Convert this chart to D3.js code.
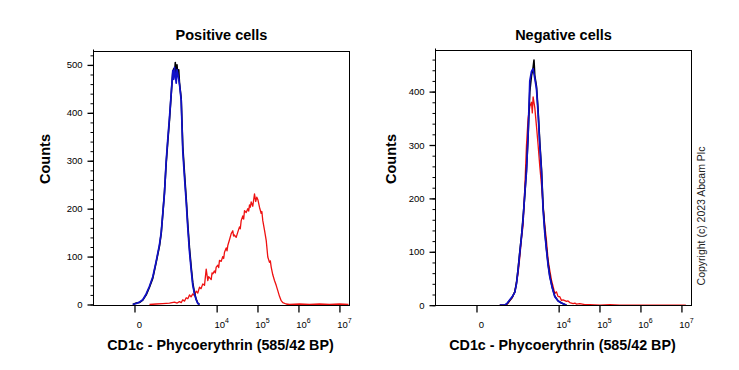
<!DOCTYPE html>
<html>
<head>
<meta charset="utf-8">
<script src="https://cdn.jsdelivr.net/npm/d3@7"></script>
<style>
  html, body { margin: 0; padding: 0; background: #fff; }
  svg text { font-family: Arial, "Liberation Sans", sans-serif; fill: #000; }
</style>
</head>
<body>
<div id="chart"></div>
<script>
// x values are fluorescence (biexponential axis), y values are counts
const posRed = [[132,0],[238,1],[390,2],[614,3],[846,5],[1000,3],[1153,6],[1280,4],[1408,10],[1560,7],[1725,14],[1900,12],[2097,20],[2300,16],[2545,22],[2800,19],[3101,28],[3400,24],[3755,36],[4100,33],[4540,43],[5005,40],[5517,74],[6044,50],[6350,58],[6657,56],[7335,52],[7700,66],[8037,64],[8850,70],[9300,66],[9750,78],[10680,82],[11200,77],[11750,92],[12940,90],[14170,100],[14900,96],[15600,109],[17180,118],[18000,112],[18800,123],[20690,135],[22780,148],[24920,154],[26000,143],[27430,145],[30180,140],[33030,151],[36360,162],[38000,158],[40000,175],[43780,185],[46000,178],[48190,196],[53000,192],[58000,200],[61000,195],[63860,208],[67000,203],[70260,214],[76880,205],[84600,231],[90500,215],[96300,224],[103000,218],[112000,203],[123300,190],[128000,194],[134900,175],[148400,155],[163300,134],[178600,99],[196500,88],[206000,91],[216200,78],[236600,62],[260200,50],[286300,40],[313300,29],[344600,17],[379200,8],[414700,4],[502100,1],[605000,0],[1061000,1],[1859000,0],[3262000,1],[5724000,0],[10040000,1],[16650000,0]];
const posBlack = [[-10,0],[10,3],[32,4],[59,9],[93,20],[132,36],[180,55],[238,88],[307,122],[348,148],[390,188],[439,235],[494,295],[549,340],[614,385],[686,438],[760,485],[805,492],[846,480],[890,505],[941,470],[989,500],[1039,478],[1100,490],[1153,462],[1279,430],[1408,330],[1559,275],[1725,222],[1897,168],[2097,118],[2317,78],[2545,45],[2810,24],[3101,11],[3402,3],[3755,0]];
const posBlue = [[-10,0],[10,2],[32,5],[59,10],[93,22],[132,38],[180,58],[238,90],[307,125],[348,150],[390,190],[439,232],[494,300],[549,345],[614,390],[686,440],[760,488],[805,470],[846,495],[941,462],[989,490],[1039,482],[1153,460],[1279,426],[1408,320],[1559,265],[1725,215],[1897,160],[2097,110],[2317,72],[2545,40],[2810,22],[3101,10],[3402,2],[3755,0]];

const negRed = [[270,0],[390,0],[464,2],[549,8],[647,14],[760,25],[846,42],[935,60],[1039,90],[1153,125],[1271,150],[1408,220],[1559,300],[1716,350],[1897,372],[2097,380],[2199,360],[2305,390],[2545,370],[2810,335],[3085,300],[3402,260],[3755,225],[4118,185],[4540,150],[5005,120],[5480,85],[6044,65],[6657,47],[7290,35],[8037,22],[8850,25],[9690,16],[10680,16],[11700,9],[12870,10],[15600,7],[17000,8],[18800,5],[22650,3],[25000,4],[27430,2],[33000,3],[43780,1],[58000,1],[101800,0],[178600,1],[313300,0],[964000,0],[12800000,0]];
const negBlack = [[270,0],[390,0],[464,3],[549,9],[647,15],[760,25],[846,42],[935,68],[1039,100],[1153,130],[1271,165],[1408,205],[1559,255],[1716,315],[1897,400],[2097,430],[2305,445],[2428,459],[2545,430],[2810,410],[3085,365],[3402,305],[3755,255],[4118,185],[4540,140],[5005,105],[5480,78],[6044,55],[6970,33],[8037,17],[9690,8],[11750,4],[15600,0]];
const negBlue = [[270,0],[390,0],[464,4],[549,10],[647,16],[760,24],[846,40],[935,66],[1039,98],[1153,128],[1271,160],[1408,210],[1559,250],[1716,320],[1897,420],[2097,438],[2305,443],[2545,425],[2810,405],[3085,359],[3402,300],[3755,250],[4118,178],[4540,135],[5005,103],[5480,75],[6044,53],[6970,32],[8037,16],[9690,8],[11750,4],[15600,0]];

const xLabelTicks = [0, 1e4, 1e5, 1e6, 1e7];
const xLabelExp = [null, 4, 5, 6, 7];
const posYTicks = [0, 100, 200, 300, 400, 500];
const negYTicks = [0, 100, 200, 300, 400];
const titles = ['Positive cells', 'Negative cells'];
const xTitle = 'CD1c - Phycoerythrin (585/42 BP)';
const yTitle = 'Counts';
const copyright = 'Copyright (c) 2023 Abcam Plc';

const W = 739, H = 370;
const plotW = 256;

const svg = d3.select('#chart').append('svg')
    .attr('width', W)
    .attr('height', H)
    .style('display', 'block');
svg.append('rect').attr('width', W).attr('height', H).attr('fill', '#fff');

// minor ticks for the biexponential axis
const xMinor = [];
for (let m = 10; m < 100; m += 10) xMinor.push(-m);
for (let m = 100; m < 1000; m += 100) xMinor.push(-m, m);
for (let e = 3; e <= 7; e++) {
    for (let k = 1; k < 10; k++) {
        const v = k * Math.pow(10, e);
        if (v < 1.76e7 && !xLabelTicks.includes(v)) xMinor.push(v);
    }
}

const panels = [
    { title: titles[0], left: 93.5, top: 51.5, h: 254, yDomain: [-2.1, 528], yTicks: posYTicks, yMinorMax: 520, countsX: 45,
      series: [[posRed, '#ee1111', 1.3], [posBlack, '#000', 1.6], [posBlue, '#1010c8', 1.7]] },
    { title: titles[1], left: 435.5, top: 50.5, h: 255, yDomain: [-0.6, 477], yTicks: negYTicks, yMinorMax: 460, countsX: 391,
      series: [[negRed, '#ee1111', 1.3], [negBlack, '#000', 1.6], [negBlue, '#1010c8', 1.7]] }
];

panels.forEach((p, pi) => {
    const g = svg.append('g').attr('transform', `translate(${p.left},${p.top})`);

    const x = d3.scaleSymlog().constant(100).domain([-900, 1.76e7]).range([0, plotW]);
    const y = d3.scaleLinear().domain(p.yDomain).range([p.h, 0]);

    const clipId = 'clip' + pi;
    g.append('clipPath').attr('id', clipId)
        .append('rect').attr('x', 0).attr('y', -2).attr('width', plotW).attr('height', p.h + 2);

    const line = d3.line().x(d => x(d[0])).y(d => y(d[1]));

    p.series.forEach(([data, color, sw]) => {
        g.append('path')
            .datum(data)
            .attr('clip-path', `url(#${clipId})`)
            .attr('d', line)
            .attr('fill', 'none')
            .attr('stroke', color)
            .attr('stroke-width', sw)
            .attr('stroke-linejoin', 'round');
    });

    // frame
    g.append('rect')
        .attr('width', plotW).attr('height', p.h)
        .attr('fill', 'none').attr('stroke', '#000').attr('stroke-width', 1);

    // y axis
    const yMinorAxis = d3.axisLeft(y).tickValues(d3.range(0, p.yMinorMax + 1, 20)).tickSize(3).tickFormat('');
    g.append('g').call(yMinorAxis).call(a => a.select('.domain').remove());
    const yAxis = d3.axisLeft(y).tickValues(p.yTicks).tickSize(6).tickPadding(5).tickFormat(d3.format('d'));
    g.append('g').call(yAxis)
        .call(a => a.select('.domain').attr('d', `M0,${p.h}V-2`))
        .call(a => a.selectAll('line').attr('stroke-width', 1.3))
        .call(a => a.selectAll('text').style('font-size', '9.5px'));

    // x axis
    const xa = g.append('g').attr('transform', `translate(0,${p.h})`);
    xa.call(d3.axisBottom(x).tickValues(xMinor).tickSize(3.5).tickFormat(''))
        .call(a => a.select('.domain').remove());
    xa.call(d3.axisBottom(x).tickValues(xLabelTicks).tickSize(7).tickFormat(''))
        .call(a => a.select('.domain').remove());
    xa.selectAll('line').attr('stroke-width', 1.3);

    const lab = xa.append('g');
    xLabelTicks.forEach((v, i) => {
        const t = lab.append('text')
            .attr('x', x(v) + 5)
            .attr('y', 328 - p.top - p.h)
            .attr('text-anchor', 'middle')
            .style('font-size', '9.5px');
        if (xLabelExp[i] === null) {
            t.text('0');
        } else {
            t.append('tspan').text('10');
            t.append('tspan').attr('dy', -5).style('font-size', '7px').text(xLabelExp[i]);
        }
    });

    // titles
    svg.append('text')
        .attr('x', p.left + plotW / 2)
        .attr('y', 40)
        .attr('text-anchor', 'middle')
        .style('font-size', '14.5px')
        .style('font-weight', 'bold')
        .text(p.title);

    svg.append('text')
        .attr('x', p.left + plotW / 2 - 1)
        .attr('y', 350)
        .attr('text-anchor', 'middle')
        .style('font-size', '14.3px')
        .style('font-weight', 'bold')
        .text(xTitle);

    svg.append('text')
        .attr('transform', `translate(${p.countsX},159) rotate(-90)`)
        .attr('dy', '0.35em')
        .attr('text-anchor', 'middle')
        .style('font-size', '14.5px')
        .style('font-weight', 'bold')
        .text(yTitle);
});

svg.append('text')
    .attr('transform', 'translate(701.5,216) rotate(-90)')
    .attr('dy', '0.35em')
    .attr('text-anchor', 'middle')
    .style('font-size', '10.5px')
    .style('fill', '#222')
    .text(copyright);
</script>
</body>
</html>
